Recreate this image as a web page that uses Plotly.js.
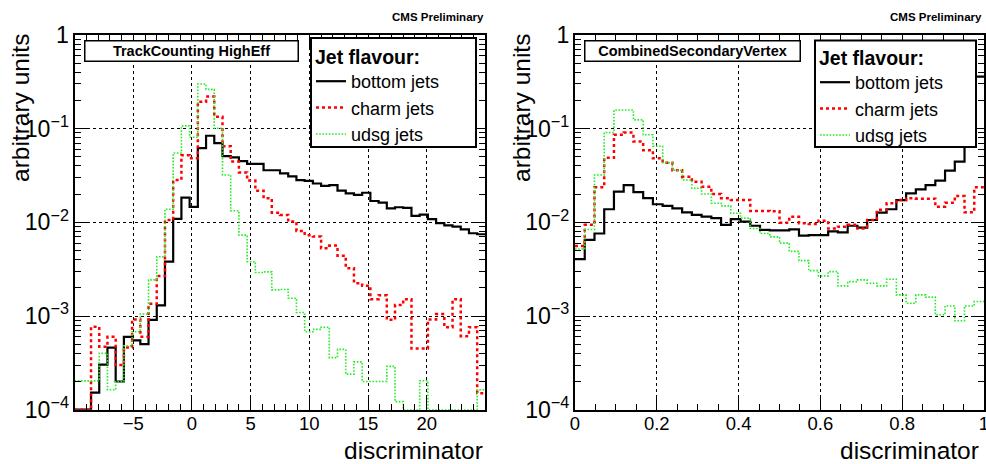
<!DOCTYPE html>
<html>
<head>
<meta charset="utf-8">
<script src="https://cdn.plot.ly/plotly-3.0.1.min.js"></script>
<style>
  html, body { margin: 0; padding: 0; background: #ffffff; }
  #chart { width: 986px; height: 464px; }
</style>
</head>
<body>
<div id="chart"></div>
<script>
// ---------------- data ----------------
// TrackCounting HighEff: 50 bins from -10 to 25
const tcMin = -10, tcMax = 25, tcBins = 50;
const tcBottom = [1.0e-4, 1.0e-4, 1.52e-4, 3.03e-4, 4.6e-4, 2.0e-4, 6.0e-4, 5.5e-4, 5.0e-4, 9.1e-4,
  1.3e-3, 3.8e-3, 1.09e-2, 1.84e-2, 1.46e-2, 6.2e-2, 8.4e-2, 7.0e-2, 5.1e-2, 4.95e-2,
  4.5e-2, 4.2e-2, 4.2e-2, 3.6e-2, 3.6e-2, 3.34e-2, 3.1e-2, 2.83e-2, 2.77e-2, 2.6e-2,
  2.45e-2, 2.5e-2, 2.18e-2, 2.04e-2, 1.96e-2, 2.07e-2, 1.69e-2, 1.62e-2, 1.41e-2, 1.45e-2,
  1.43e-2, 1.17e-2, 1.21e-2, 1.08e-2, 9.8e-3, 9.3e-3, 9.0e-3, 8.4e-3, 7.65e-3, 7.46e-3];
const tcCharm = [1.0e-4, 1.0e-4, 7.7e-4, 4.7e-4, 6.0e-4, 3.0e-4, 4.6e-4, 9.2e-4, 6.0e-4, 1.35e-3,
  2.68e-3, 1.06e-2, 2.83e-2, 5.2e-2, 4.83e-2, 0.194, 0.22, 0.134, 0.065, 4.45e-2,
  3.4e-2, 2.79e-2, 2.18e-2, 1.81e-2, 1.27e-2, 1.2e-2, 1.02e-2, 8.1e-3, 7.3e-3, 7.05e-3,
  5.3e-3, 5.65e-3, 4.4e-3, 3.24e-3, 2.24e-3, 2.11e-3, 1.51e-3, 1.67e-3, 9.1e-4, 1.31e-3,
  1.51e-3, 4.5e-4, 4.5e-4, 9.2e-4, 1.05e-3, 7.6e-4, 1.51e-3, 6.1e-4, 7.6e-4, 1.5e-4];
const tcUdsg = [2.03e-4, 2.03e-4, 2.03e-4, 4.0e-4, 1.63e-4, 2.0e-4, 4.8e-4, 6.8e-4, 1.05e-3, 2.43e-3,
  4.3e-3, 1.38e-2, 5.5e-2, 0.107, 8.1e-2, 0.30, 0.263, 0.101, 3.2e-2, 1.33e-2,
  7.3e-3, 3.8e-3, 2.91e-3, 2.96e-3, 1.9e-3, 1.92e-3, 1.55e-3, 1.09e-3, 6.8e-4, 7.2e-4,
  7.6e-4, 3.6e-4, 4.4e-4, 2.4e-4, 3.24e-4, 2.0e-4, 2.0e-4, 2.0e-4, 2.9e-4, 1.22e-4,
  1.0e-4, 1.0e-4, 2.04e-4, 1.0e-4, 1.0e-4, 1.0e-4, 1.0e-4, 1.0e-4, 1.0e-4, 1.63e-4];

// CombinedSecondaryVertex: 42 bins from 0 to 1
const csvMin = 0, csvMax = 1, csvBins = 42;
const csvBottom = [4.04e-3, 6.5e-3, 7.6e-3, 1.38e-2, 2.13e-2, 2.5e-2, 2.1e-2, 1.81e-2, 1.56e-2, 1.5e-2,
  1.41e-2, 1.28e-2, 1.2e-2, 1.15e-2, 1.11e-2, 9.4e-3, 1.08e-2, 1.02e-2, 9.2e-3, 8.3e-3,
  8.2e-3, 8.2e-3, 8.4e-3, 7.2e-3, 7.3e-3, 7.3e-3, 8.0e-3, 7.8e-3, 9.2e-3, 8.8e-3,
  1.06e-2, 1.27e-2, 1.38e-2, 1.73e-2, 2.04e-2, 2.25e-2, 2.5e-2, 2.79e-2, 3.56e-2, 4.45e-2,
  0.12, 0.36];
const csvCharm = [5.6e-3, 9.4e-3, 2.37e-2, 4.9e-2, 8.6e-2, 9.1e-2, 7.3e-2, 5.9e-2, 4.83e-2, 4.34e-2,
  3.6e-2, 3.07e-2, 2.72e-2, 2.4e-2, 2.01e-2, 1.81e-2, 1.73e-2, 1.73e-2, 1.32e-2, 1.32e-2,
  1.31e-2, 9.9e-3, 1.15e-2, 9.8e-3, 9.6e-3, 1.04e-2, 8.6e-3, 9.0e-3, 9.4e-3, 8.6e-3,
  1.06e-2, 1.36e-2, 1.6e-2, 1.73e-2, 1.81e-2, 1.79e-2, 1.79e-2, 1.47e-2, 1.62e-2, 1.91e-2,
  1.28e-2, 2.37e-2];
const csvUdsg = [5.2e-3, 8.4e-3, 3.2e-2, 9.1e-2, 0.158, 0.158, 0.124, 8.6e-2, 6.5e-2, 4.34e-2,
  3.6e-2, 2.83e-2, 2.31e-2, 2.01e-2, 1.6e-2, 1.5e-2, 1.25e-2, 1.11e-2, 8.6e-3, 7.6e-3,
  7.0e-3, 6.0e-3, 4.9e-3, 3.9e-3, 3.05e-3, 2.68e-3, 2.98e-3, 2.1e-3, 2.33e-3, 2.43e-3,
  2.24e-3, 2.1e-3, 2.47e-3, 1.68e-3, 1.37e-3, 1.68e-3, 1.59e-3, 1.03e-3, 1.28e-3, 8.9e-4,
  1.28e-3, 1.43e-3];

const seriesNames = ['bottom jets', 'charm jets', 'udsg jets'];
const tcTicks = [-5, 0, 5, 10, 15, 20];
const csvTicks = [0, 0.2, 0.4, 0.6, 0.8, 1];
const panelTitles = ['TrackCounting HighEff', 'CombinedSecondaryVertex'];
const legendTitle = 'Jet flavour:';
const cornerLabel = 'CMS Preliminary';
const xTitle = 'discriminator';
const yTitle = 'arbitrary units';

// ---------------- helpers ----------------
const W = 986, H = 464;
const FONT = 'Liberation Sans, Arial, Helvetica, sans-serif';
function edges(min, max, n) {
  const w = (max - min) / n;
  return Array.from({length: n + 1}, (_, i) => min + i * w);
}
function stepY(v) { return v.concat([v[v.length - 1]]); }

const styles = [
  {color: '#000000', width: 2.2, dash: 'solid'},
  {color: '#ff0000', width: 2.5, dash: 'dot'},
  {color: '#22ee22', width: 1.6, dash: '1.6px,1.6px'}
];

function makeTraces(min, max, n, arrays, xa, ya, legend) {
  const ex = edges(min, max, n);
  return arrays.map((v, k) => ({
    type: 'scatter', mode: 'lines',
    x: ex, y: stepY(v),
    xaxis: xa, yaxis: ya,
    line: {shape: 'hv', color: styles[k].color, width: styles[k].width, dash: styles[k].dash},
    name: seriesNames[k],
    legend: legend,
    hoverinfo: 'skip'
  }));
}

const traces = []
  .concat(makeTraces(tcMin, tcMax, tcBins, [tcBottom, tcCharm, tcUdsg], 'x', 'y', 'legend'))
  .concat(makeTraces(csvMin, csvMax, csvBins, [csvBottom, csvCharm, csvUdsg], 'x2', 'y2', 'legend2'));

// ---------------- layout ----------------
const yDom = [1 - 409.7 / H, 1 - 35 / H];
const commonAxis = {
  showline: true, linewidth: 2, linecolor: '#000000', mirror: 'allticks',
  ticks: 'inside', ticklen: 12, tickwidth: 1, tickcolor: '#000000',
  showgrid: true, gridcolor: '#000000', gridwidth: 1, griddash: 'dot',
  zeroline: false, ticklabeloverflow: 'allow',
  tickfont: {family: FONT, size: 18.5, color: '#000000'}
};
function xAxis(domain, range, ticks, minorD) {
  return Object.assign({}, commonAxis, {
    domain: domain, range: range, tickmode: 'array', tickvals: ticks,
    ticklabelstandoff: -4,
    minor: {dtick: minorD, tick0: 0, ticks: 'inside', ticklen: 6, tickcolor: '#000000', showgrid: false},
    fixedrange: true
  });
}
function yAxis(domain, anchor) {
  return Object.assign({}, commonAxis, {
    domain: domain, type: 'log', range: [-4, 0], dtick: 1,
    exponentformat: 'power', anchor: anchor,
    minor: {dtick: 'D1', ticks: 'inside', ticklen: 6, tickcolor: '#000000', showgrid: false},
    fixedrange: true
  });
}

function legendBox(leftPx, topPx) {
  return {
    x: leftPx / W, y: 1 - topPx / H, xanchor: 'left', yanchor: 'top',
    xref: 'paper', yref: 'paper',
    bgcolor: 'rgba(0,0,0,0)', borderwidth: 0,
    font: {family: FONT, size: 18, color: '#000000'},
    itemwidth: 30, tracegroupgap: 0
  };
}
function legendFrame(x0, y0, x1, y1) {
  return {
    type: 'rect', xref: 'paper', yref: 'paper', layer: 'above',
    x0: x0 / W, x1: x1 / W, y0: 1 - y0 / H, y1: 1 - y1 / H,
    fillcolor: '#ffffff', line: {color: '#000000', width: 2}
  };
}
function legendHeading(leftPx, yPx) {
  return {
    text: '<b>' + legendTitle + '</b>', xref: 'paper', yref: 'paper',
    x: leftPx / W, y: 1 - yPx / H, xanchor: 'left', yanchor: 'middle', showarrow: false,
    font: {family: FONT, size: 19.5, color: '#000000'}
  };
}

function titleBox(text, leftPx, widthPx) {
  return {
    text: '<b>' + text + '</b>', xref: 'paper', yref: 'paper',
    x: leftPx / W, y: 1 - 40.5 / H, xanchor: 'left', yanchor: 'top',
    showarrow: false, width: widthPx, height: 17, align: 'center',
    bgcolor: '#ffffff', bordercolor: '#000000', borderwidth: 1.5, borderpad: 1,
    font: {family: FONT, size: 14.5, color: '#000000'}
  };
}

const annotations = [
  titleBox(panelTitles[0], 84, 210),
  titleBox(panelTitles[1], 584, 212),
  legendHeading(313, 57),
  legendHeading(817, 58),
  {text: '<b>' + cornerLabel + '</b>', xref: 'paper', yref: 'paper', x: 486 / W, y: 1 - 17 / H,
   xanchor: 'right', yanchor: 'middle', showarrow: false,
   font: {family: FONT, size: 11.5, color: '#000000'}},
  {text: '<b>' + cornerLabel + '</b>', xref: 'paper', yref: 'paper', x: 984 / W, y: 1 - 17 / H,
   xanchor: 'right', yanchor: 'middle', showarrow: false,
   font: {family: FONT, size: 11.5, color: '#000000'}},
  {text: xTitle, xref: 'paper', yref: 'paper', x: 485 / W, y: 1 - 450 / H,
   xanchor: 'right', yanchor: 'middle', showarrow: false,
   font: {family: FONT, size: 24.5, color: '#000000'}},
  {text: xTitle, xref: 'paper', yref: 'paper', x: 981 / W, y: 1 - 450 / H,
   xanchor: 'right', yanchor: 'middle', showarrow: false,
   font: {family: FONT, size: 24.5, color: '#000000'}},
  {text: yTitle, xref: 'paper', yref: 'paper', x: 20 / W, y: 1 - 32 / H,
   xanchor: 'center', yanchor: 'top', textangle: -90, showarrow: false,
   font: {family: FONT, size: 24.5, color: '#000000'}},
  {text: yTitle, xref: 'paper', yref: 'paper', x: 521 / W, y: 1 - 32 / H,
   xanchor: 'center', yanchor: 'top', textangle: -90, showarrow: false,
   font: {family: FONT, size: 24.5, color: '#000000'}}
];

const layout = {
  width: W, height: H,
  margin: {l: 0, r: 0, t: 0, b: 0},
  paper_bgcolor: '#ffffff', plot_bgcolor: '#ffffff',
  font: {family: FONT, color: '#000000'},
  showlegend: true,
  xaxis: Object.assign(xAxis([74.6 / W, 485.4 / W], [tcMin, tcMax], tcTicks, 1), {anchor: 'y'}),
  yaxis: yAxis(yDom, 'x'),
  xaxis2: Object.assign(xAxis([575 / W, 984 / W], [csvMin, csvMax], csvTicks, 0.05), {anchor: 'y2'}),
  yaxis2: yAxis(yDom, 'x2'),
  legend: legendBox(311, 63),
  legend2: legendBox(815, 64),
  shapes: [legendFrame(311, 38, 476, 147), legendFrame(815, 40.5, 976, 147)],
  annotations: annotations
};

Plotly.newPlot('chart', traces, layout, {staticPlot: true, displayModeBar: false});
</script>
</body>
</html>
